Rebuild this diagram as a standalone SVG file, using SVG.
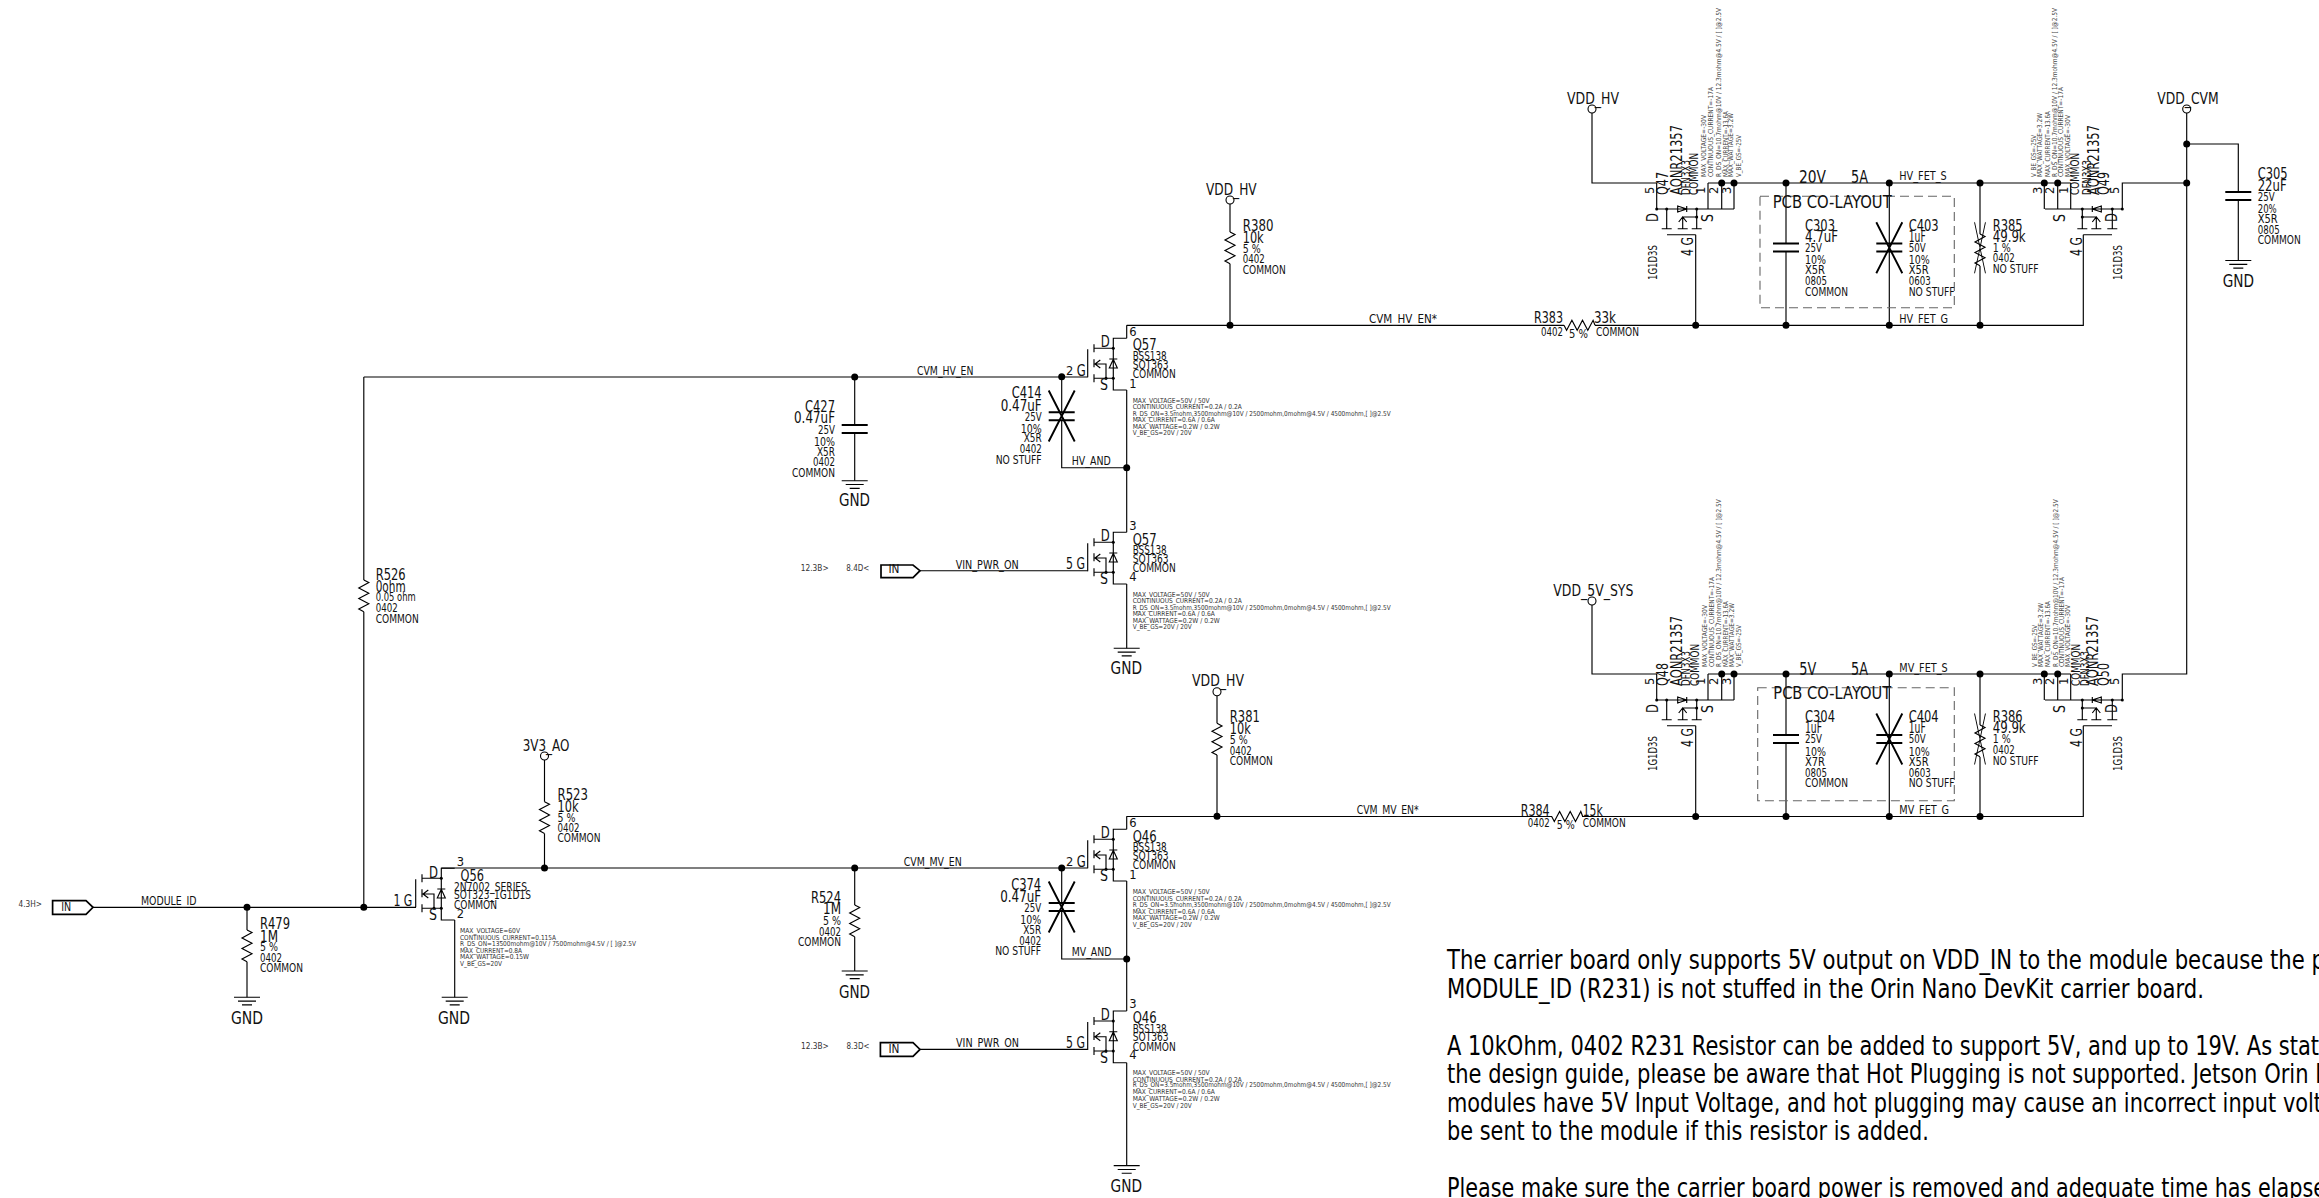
<svg xmlns="http://www.w3.org/2000/svg" xmlns:xlink="http://www.w3.org/1999/xlink" width="2319" height="1198" viewBox="0 0 2319 1198">
<style>
text{font-family:"DejaVu Sans","Liberation Sans",sans-serif;fill:#111}
.b{font-size:15.5px}.m{font-size:13px}.n{font-size:11.5px}.s{font-size:6.8px;fill:#333}.p{font-size:26px;fill:#000}.h{font-size:17px}.c{font-size:17px}.v{font-size:6.8px;fill:#444}.t{font-size:9px;fill:#333}
.w,.sy{fill:none;stroke:#000;stroke-width:1.15}
.hv{fill:none;stroke:#000;stroke-width:1.9}
.tag{fill:#fff;stroke:#000;stroke-width:1.7}
.d{fill:#000}.o{fill:#fff;stroke:#000;stroke-width:1.1}
.dash{fill:none;stroke:#666;stroke-width:1.1;stroke-dasharray:9 5}
</style>
<defs>
<g id="nmos"><path class="sy" d="M13.4,0H0V51.7H13.4M0,10H-19.3M-19.3,6V14M-19.3,21V29M-13,21.7L-18.3,25.7L-13,29.7M-19.3,25.7H-7.3V40M0,40H-19.3M-19.3,36V44M-25.6,11V39M-4,20.7H4M-4,29.7H4L0,21Z"/><circle class="d" cx="0" cy="10" r="1.5"/><circle class="d" cx="0" cy="40" r="1.5"/><circle class="d" cx="-7.3" cy="40" r="1.5"/></g>
<g id="pmos"><path class="sy" d="M0,0H77.3M10,0V19.7M5,19.7H15M26,8V19.7M21,19.7H31M40,0V19.7M35,19.7H45M22,13L26,8L30,13M26,8H40M10.3,25.7H39M21,-3V3L30,0ZM30,-3V3"/><circle class="d" cx="0" cy="0" r="1.5"/><circle class="d" cx="10" cy="0" r="1.5"/><circle class="d" cx="40" cy="0" r="1.5"/><circle class="d" cx="40" cy="8" r="1.5"/></g>
<path id="rz" class="sy" d="M0,0L5,2.6L-5,7.9L5,13.2L-5,18.5L5,23.8L-5,29.1L0,31.7"/>
<path id="rh" class="sy" d="M0,0L2.6,5L7.9,-5L13.2,5L18.5,-5L23.8,5L29.1,-5L31,0"/>
<path id="x" class="hv" d="M-13,-25.5L13,25.5M13,-25.5L-13,25.5"/>
<path id="cap" class="hv" d="M-13,0H13M-13,8H13"/>
<path id="gnd" class="sy" d="M-13,0H13M-9,3.8H9M-5,7.6H5"/>
</defs>
<g id="connectors">
<path class="w" d="M1592,113V183H1656.7V209M1708,183H2070.7M1708,183V209M1721.7,183V209M1734,183V209M2044.3,183V209M2057.7,183V209M2070.7,183V209M2122.3,209V183H2186.7M2186.7,113V674H2122.3V700M2186.7,144H2238.3V192M2238.3,200V260M1786,183V243M1786,252V325.3M1889.3,183V325.3M1980,183V234M1980,266V325.3M1126.7,325.3H1564M1595,325.3H2083.3V234.7M1695.7,234.7V325.3"/>
<path class="w" d="M1592,605V674H1656.7V700M1708,674H2070.7M1708,674V700M1721.7,674V700M1734,674V700M2044.3,674V700M2057.7,674V700M2070.7,674V700M1786,674V735M1786,743.3V816.5M1889.3,674V816.5M1980,674V725M1980,757V816.5M1126.7,816.5H1552M1582,816.5H2083.3V725.7M1695.7,725.7V816.5"/>
<path class="w" d="M1230,204V232M1230,263.7V325.3M1126.7,325.3V338.3M1126.7,390V532.3M1126.7,584V648.3M363.8,377H1087.7M363.8,377V580M363.8,611.7V907.3M93,907.3H416M247,907.3V930M247,961.7V997.3M454.7,920V997.3M441.3,868H1087.7M1126.7,816.3V829.3M1126.7,881V1011M1126.7,1062.7V1165.7M920,570.7H1087.7M920,1049.4H1087.7M854.7,868V905M854.7,936.7V971M1061.7,868V903.3M1061.7,910.7V959H1126.7M1061.7,376.7V412.3M1061.7,420V467.7H1126.7M854.7,377V425M854.7,432.7V480.7M544.5,760V801.7M544.5,833.4V868M1217,696V723.3M1217,755V816.3"/>
<circle class="d" cx="1721.7" cy="183" r="3.5"/><circle class="d" cx="1734" cy="183" r="3.5"/><circle class="d" cx="1786" cy="183" r="3.5"/><circle class="d" cx="1889.3" cy="183" r="3.5"/><circle class="d" cx="1980" cy="183" r="3.5"/><circle class="d" cx="2044.3" cy="183" r="3.5"/><circle class="d" cx="2057.7" cy="183" r="3.5"/><circle class="d" cx="2186.7" cy="144" r="3.5"/><circle class="d" cx="2186.7" cy="183" r="3.5"/><circle class="d" cx="1695.7" cy="325.3" r="3.5"/><circle class="d" cx="1786" cy="325.3" r="3.5"/><circle class="d" cx="1889.3" cy="325.3" r="3.5"/><circle class="d" cx="1980" cy="325.3" r="3.5"/>
<circle class="d" cx="1721.7" cy="674" r="3.5"/><circle class="d" cx="1734" cy="674" r="3.5"/><circle class="d" cx="1786" cy="674" r="3.5"/><circle class="d" cx="1889.3" cy="674" r="3.5"/><circle class="d" cx="1980" cy="674" r="3.5"/><circle class="d" cx="2044.3" cy="674" r="3.5"/><circle class="d" cx="2057.7" cy="674" r="3.5"/><circle class="d" cx="1695.7" cy="816.5" r="3.5"/><circle class="d" cx="1786" cy="816.5" r="3.5"/><circle class="d" cx="1889.3" cy="816.5" r="3.5"/><circle class="d" cx="1980" cy="816.5" r="3.5"/>
<circle class="d" cx="1230" cy="325.3" r="3.5"/><circle class="d" cx="1061.7" cy="376.7" r="3.5"/><circle class="d" cx="854.7" cy="377" r="3.5"/><circle class="d" cx="1126.7" cy="467.7" r="3.5"/><circle class="d" cx="247" cy="907.3" r="3.5"/><circle class="d" cx="363.8" cy="907.3" r="3.5"/><circle class="d" cx="544.5" cy="868" r="3.5"/><circle class="d" cx="854.7" cy="868" r="3.5"/><circle class="d" cx="1061.7" cy="868" r="3.5"/><circle class="d" cx="1217" cy="816.3" r="3.5"/><circle class="d" cx="1126.7" cy="959" r="3.5"/>
<text class="m" x="1369" y="322.7" textLength="68" lengthAdjust="spacingAndGlyphs">CVM_HV_EN*</text>
<text class="m" x="917" y="375" textLength="56.4" lengthAdjust="spacingAndGlyphs">CVM_HV_EN</text>
<text class="m" x="1071.7" y="465" textLength="39" lengthAdjust="spacingAndGlyphs">HV_AND</text>
<text class="m" x="955.7" y="569" textLength="63" lengthAdjust="spacingAndGlyphs">VIN_PWR_ON</text>
<text class="m" x="141" y="905" textLength="55.5" lengthAdjust="spacingAndGlyphs">MODULE_ID</text>
<text class="m" x="903.7" y="866" textLength="58" lengthAdjust="spacingAndGlyphs">CVM_MV_EN</text>
<text class="m" x="1356.7" y="814" textLength="62" lengthAdjust="spacingAndGlyphs">CVM_MV_EN*</text>
<text class="m" x="1071.8" y="956" textLength="39.6" lengthAdjust="spacingAndGlyphs">MV_AND</text>
<text class="m" x="956" y="1046.7" textLength="63" lengthAdjust="spacingAndGlyphs">VIN_PWR_ON</text>
<text class="m" x="1899.3" y="180" textLength="47.4" lengthAdjust="spacingAndGlyphs">HV_FET_S</text>
<text class="m" x="1899.3" y="322.7" textLength="48.7" lengthAdjust="spacingAndGlyphs">HV_FET_G</text>
<text class="m" x="1899.3" y="671.7" textLength="48.4" lengthAdjust="spacingAndGlyphs">MV_FET_S</text>
<text class="m" x="1899.3" y="814" textLength="49.7" lengthAdjust="spacingAndGlyphs">MV_FET_G</text>
<text class="h" x="1799" y="182.7" textLength="27" lengthAdjust="spacingAndGlyphs">20V</text>
<text class="h" x="1851" y="182.7" textLength="17" lengthAdjust="spacingAndGlyphs">5A</text>
<text class="h" x="1799.3" y="675" textLength="17" lengthAdjust="spacingAndGlyphs">5V</text>
<text class="h" x="1851" y="675" textLength="17" lengthAdjust="spacingAndGlyphs">5A</text>
</g>
<g id="VDD_HV_1"><circle class="o" cx="1592" cy="109" r="4"/><text class="b" x="1567" y="104" textLength="52" lengthAdjust="spacingAndGlyphs">VDD_HV</text></g>
<g id="VDD_CVM"><circle class="o" cx="2186.7" cy="109" r="4"/><text class="b" x="2157.3" y="104" textLength="61.4" lengthAdjust="spacingAndGlyphs">VDD_CVM</text></g>
<g id="VDD_5V_SYS"><circle class="o" cx="1592" cy="601" r="4"/><text class="b" x="1553.3" y="596" textLength="80" lengthAdjust="spacingAndGlyphs">VDD_5V_SYS</text></g>
<g id="VDD_HV_2"><circle class="o" cx="1230" cy="200" r="4"/><text class="b" x="1206" y="195" textLength="50.7" lengthAdjust="spacingAndGlyphs">VDD_HV</text></g>
<g id="VDD_HV_3"><circle class="o" cx="1217" cy="691.7" r="4"/><text class="b" x="1192" y="686" textLength="52" lengthAdjust="spacingAndGlyphs">VDD_HV</text></g>
<g id="V3V3_AO"><circle class="o" cx="544.5" cy="756" r="4"/><text class="b" x="522.7" y="750.7" textLength="46.7" lengthAdjust="spacingAndGlyphs">3V3_AO</text></g>
<g id="Q47"><use href="#pmos" x="1656.7" y="209"/>
<text class="n" x="1654" y="194" transform="rotate(-90 1654 194)">5</text><text class="n" x="1705" y="194" transform="rotate(-90 1705 194)">1</text><text class="n" x="1717.7" y="194" transform="rotate(-90 1717.7 194)">2</text><text class="n" x="1730.7" y="194" transform="rotate(-90 1730.7 194)">3</text>
<text class="b" x="1658" y="222" transform="rotate(-90 1658 222)" textLength="9" lengthAdjust="spacingAndGlyphs">D</text><text class="b" x="1713" y="222" transform="rotate(-90 1713 222)" textLength="8" lengthAdjust="spacingAndGlyphs">S</text><text class="b" x="1693" y="256" transform="rotate(-90 1693 256)" textLength="19" lengthAdjust="spacingAndGlyphs">4 G</text><text class="m" x="1656.7" y="280" transform="rotate(-90 1656.7 280)" textLength="35" lengthAdjust="spacingAndGlyphs">1G1D3S</text>
<text class="b" x="1668" y="195" transform="rotate(-90 1668 195)" textLength="23" lengthAdjust="spacingAndGlyphs">Q47</text><text class="b" x="1682" y="195" transform="rotate(-90 1682 195)" textLength="70" lengthAdjust="spacingAndGlyphs">AONR21357</text><text class="m" x="1690" y="195" transform="rotate(-90 1690 195)" textLength="35" lengthAdjust="spacingAndGlyphs">DFN3X3</text><text class="m" x="1698" y="195" transform="rotate(-90 1698 195)" textLength="42" lengthAdjust="spacingAndGlyphs">COMMON</text>
<text class="v" x="1706" y="177" transform="rotate(-90 1706 177)" textLength="62" lengthAdjust="spacingAndGlyphs">MAX_VOLTAGE=-30V</text><text class="v" x="1713" y="177" transform="rotate(-90 1713 177)" textLength="90" lengthAdjust="spacingAndGlyphs">CONTINUOUS_CURRENT=-17A</text><text class="v" x="1721" y="177" transform="rotate(-90 1721 177)" textLength="169" lengthAdjust="spacingAndGlyphs">R_DS_ON=10.7mohm@10V / 12.3mohm@4.5V / [ ]@2.5V</text><text class="v" x="1727.7" y="177" transform="rotate(-90 1727.7 177)" textLength="66" lengthAdjust="spacingAndGlyphs">MAX_CURRENT=-13.6A</text><text class="v" x="1733" y="177" transform="rotate(-90 1733 177)" textLength="64" lengthAdjust="spacingAndGlyphs">MAX_WATTAGE=3.2W</text><text class="v" x="1741" y="177" transform="rotate(-90 1741 177)" textLength="42" lengthAdjust="spacingAndGlyphs">V_BE_GS=-25V</text></g>
<g id="Q49"><use href="#pmos" transform="translate(2122.3 209) scale(-1 1)"/>
<text class="n" x="2041.7" y="194" transform="rotate(-90 2041.7 194)">3</text><text class="n" x="2054" y="194" transform="rotate(-90 2054 194)">2</text><text class="n" x="2067.7" y="194" transform="rotate(-90 2067.7 194)">1</text><text class="n" x="2119" y="194" transform="rotate(-90 2119 194)">5</text>
<text class="b" x="2065" y="222" transform="rotate(-90 2065 222)" textLength="8" lengthAdjust="spacingAndGlyphs">S</text><text class="b" x="2117" y="222" transform="rotate(-90 2117 222)" textLength="9" lengthAdjust="spacingAndGlyphs">D</text><text class="b" x="2082" y="256" transform="rotate(-90 2082 256)" textLength="19" lengthAdjust="spacingAndGlyphs">4 G</text><text class="m" x="2122" y="280" transform="rotate(-90 2122 280)" textLength="35" lengthAdjust="spacingAndGlyphs">1G1D3S</text>
<text class="b" x="2109" y="195" transform="rotate(-90 2109 195)" textLength="23" lengthAdjust="spacingAndGlyphs">Q49</text><text class="b" x="2099" y="195" transform="rotate(-90 2099 195)" textLength="70" lengthAdjust="spacingAndGlyphs">AONR21357</text><text class="m" x="2090.7" y="195" transform="rotate(-90 2090.7 195)" textLength="35" lengthAdjust="spacingAndGlyphs">DFN3X3</text><text class="m" x="2079" y="195" transform="rotate(-90 2079 195)" textLength="42" lengthAdjust="spacingAndGlyphs">COMMON</text>
<text class="v" x="2036" y="177" transform="rotate(-90 2036 177)" textLength="42" lengthAdjust="spacingAndGlyphs">V_BE_GS=-25V</text><text class="v" x="2042" y="177" transform="rotate(-90 2042 177)" textLength="64" lengthAdjust="spacingAndGlyphs">MAX_WATTAGE=3.2W</text><text class="v" x="2050" y="177" transform="rotate(-90 2050 177)" textLength="66" lengthAdjust="spacingAndGlyphs">MAX_CURRENT=-13.6A</text><text class="v" x="2057" y="177" transform="rotate(-90 2057 177)" textLength="169" lengthAdjust="spacingAndGlyphs">R_DS_ON=10.7mohm@10V / 12.3mohm@4.5V / [ ]@2.5V</text><text class="v" x="2063" y="177" transform="rotate(-90 2063 177)" textLength="90" lengthAdjust="spacingAndGlyphs">CONTINUOUS_CURRENT=-17A</text><text class="v" x="2070" y="177" transform="rotate(-90 2070 177)" textLength="62" lengthAdjust="spacingAndGlyphs">MAX_VOLTAGE=-30V</text></g>
<g id="Q48"><use href="#pmos" x="1656.7" y="700"/>
<text class="n" x="1654" y="685" transform="rotate(-90 1654 685)">5</text><text class="n" x="1705" y="685" transform="rotate(-90 1705 685)">1</text><text class="n" x="1717.7" y="685" transform="rotate(-90 1717.7 685)">2</text><text class="n" x="1730.7" y="685" transform="rotate(-90 1730.7 685)">3</text>
<text class="b" x="1658" y="713" transform="rotate(-90 1658 713)" textLength="9" lengthAdjust="spacingAndGlyphs">D</text><text class="b" x="1713" y="713" transform="rotate(-90 1713 713)" textLength="8" lengthAdjust="spacingAndGlyphs">S</text><text class="b" x="1693" y="747" transform="rotate(-90 1693 747)" textLength="19" lengthAdjust="spacingAndGlyphs">4 G</text><text class="m" x="1656.7" y="771" transform="rotate(-90 1656.7 771)" textLength="35" lengthAdjust="spacingAndGlyphs">1G1D3S</text>
<text class="b" x="1668" y="686" transform="rotate(-90 1668 686)" textLength="23" lengthAdjust="spacingAndGlyphs">Q48</text><text class="b" x="1681.7" y="686" transform="rotate(-90 1681.7 686)" textLength="70" lengthAdjust="spacingAndGlyphs">AONR21357</text><text class="m" x="1690" y="686" transform="rotate(-90 1690 686)" textLength="35" lengthAdjust="spacingAndGlyphs">DFN3X3</text><text class="m" x="1699" y="686" transform="rotate(-90 1699 686)" textLength="42" lengthAdjust="spacingAndGlyphs">COMMON</text>
<text class="v" x="1706.7" y="667" transform="rotate(-90 1706.7 667)" textLength="62" lengthAdjust="spacingAndGlyphs">MAX_VOLTAGE=-30V</text><text class="v" x="1713.7" y="667" transform="rotate(-90 1713.7 667)" textLength="90" lengthAdjust="spacingAndGlyphs">CONTINUOUS_CURRENT=-17A</text><text class="v" x="1721" y="667" transform="rotate(-90 1721 667)" textLength="167.7" lengthAdjust="spacingAndGlyphs">R_DS_ON=10.7mohm@10V / 12.3mohm@4.5V / [ ]@2.5V</text><text class="v" x="1727.7" y="667" transform="rotate(-90 1727.7 667)" textLength="66" lengthAdjust="spacingAndGlyphs">MAX_CURRENT=-13.6A</text><text class="v" x="1733.7" y="667" transform="rotate(-90 1733.7 667)" textLength="64" lengthAdjust="spacingAndGlyphs">MAX_WATTAGE=3.2W</text><text class="v" x="1741" y="667" transform="rotate(-90 1741 667)" textLength="42" lengthAdjust="spacingAndGlyphs">V_BE_GS=-25V</text></g>
<g id="Q50"><use href="#pmos" transform="translate(2122.3 700) scale(-1 1)"/>
<text class="n" x="2041.7" y="685" transform="rotate(-90 2041.7 685)">3</text><text class="n" x="2054" y="685" transform="rotate(-90 2054 685)">2</text><text class="n" x="2067.7" y="685" transform="rotate(-90 2067.7 685)">1</text><text class="n" x="2119" y="685" transform="rotate(-90 2119 685)">5</text>
<text class="b" x="2065" y="713" transform="rotate(-90 2065 713)" textLength="8" lengthAdjust="spacingAndGlyphs">S</text><text class="b" x="2117" y="713" transform="rotate(-90 2117 713)" textLength="9" lengthAdjust="spacingAndGlyphs">D</text><text class="b" x="2082" y="747" transform="rotate(-90 2082 747)" textLength="19" lengthAdjust="spacingAndGlyphs">4 G</text><text class="m" x="2122" y="771" transform="rotate(-90 2122 771)" textLength="35" lengthAdjust="spacingAndGlyphs">1G1D3S</text>
<text class="b" x="2109" y="686" transform="rotate(-90 2109 686)" textLength="23" lengthAdjust="spacingAndGlyphs">Q50</text><text class="b" x="2098" y="686" transform="rotate(-90 2098 686)" textLength="70" lengthAdjust="spacingAndGlyphs">AONR21357</text><text class="m" x="2089" y="686" transform="rotate(-90 2089 686)" textLength="35" lengthAdjust="spacingAndGlyphs">DFN3X3</text><text class="m" x="2080" y="686" transform="rotate(-90 2080 686)" textLength="42" lengthAdjust="spacingAndGlyphs">COMMON</text>
<text class="v" x="2036.7" y="667" transform="rotate(-90 2036.7 667)" textLength="42" lengthAdjust="spacingAndGlyphs">V_BE_GS=-25V</text><text class="v" x="2043" y="667" transform="rotate(-90 2043 667)" textLength="64" lengthAdjust="spacingAndGlyphs">MAX_WATTAGE=3.2W</text><text class="v" x="2050" y="667" transform="rotate(-90 2050 667)" textLength="66" lengthAdjust="spacingAndGlyphs">MAX_CURRENT=-13.6A</text><text class="v" x="2057.7" y="667" transform="rotate(-90 2057.7 667)" textLength="167.7" lengthAdjust="spacingAndGlyphs">R_DS_ON=10.7mohm@10V / 12.3mohm@4.5V / [ ]@2.5V</text><text class="v" x="2063.5" y="667" transform="rotate(-90 2063.5 667)" textLength="90" lengthAdjust="spacingAndGlyphs">CONTINUOUS_CURRENT=-17A</text><text class="v" x="2070" y="667" transform="rotate(-90 2070 667)" textLength="62" lengthAdjust="spacingAndGlyphs">MAX_VOLTAGE=-30V</text></g>
<g id="colayout1"><rect class="dash" x="1760" y="196.3" width="194.3" height="111.4"/><text class="c" x="1772.7" y="208.3" textLength="119" lengthAdjust="spacingAndGlyphs">PCB CO-LAYOUT</text></g>
<g id="colayout2"><rect class="dash" x="1757.7" y="687.7" width="196.6" height="113"/><text class="c" x="1773.3" y="699.3" textLength="118" lengthAdjust="spacingAndGlyphs">PCB CO-LAYOUT</text></g>
<g id="C303"><use href="#cap" x="1786" y="243.5"/><text class="b" x="1805" y="231" textLength="30" lengthAdjust="spacingAndGlyphs">C303</text><text class="b" x="1805" y="242.3" textLength="33" lengthAdjust="spacingAndGlyphs">4.7uF</text><text class="m" x="1805" y="252.3" textLength="17" lengthAdjust="spacingAndGlyphs">25V</text><text class="m" x="1805" y="264" textLength="21" lengthAdjust="spacingAndGlyphs">10%</text><text class="m" x="1805" y="274" textLength="20" lengthAdjust="spacingAndGlyphs">X5R</text><text class="m" x="1805" y="285" textLength="22" lengthAdjust="spacingAndGlyphs">0805</text><text class="m" x="1805" y="295.7" textLength="43" lengthAdjust="spacingAndGlyphs">COMMON</text></g>
<g id="C403"><use href="#cap" x="1889.3" y="243.5"/><use href="#x" x="1889.3" y="247.8"/><text class="b" x="1908.7" y="231" textLength="30" lengthAdjust="spacingAndGlyphs">C403</text><text class="b" x="1908.7" y="242.3" textLength="17" lengthAdjust="spacingAndGlyphs">1uF</text><text class="m" x="1908.7" y="252.3" textLength="17" lengthAdjust="spacingAndGlyphs">50V</text><text class="m" x="1908.7" y="264" textLength="21" lengthAdjust="spacingAndGlyphs">10%</text><text class="m" x="1908.7" y="274" textLength="20" lengthAdjust="spacingAndGlyphs">X5R</text><text class="m" x="1908.7" y="285" textLength="22" lengthAdjust="spacingAndGlyphs">0603</text><text class="m" x="1908.7" y="295.7" textLength="46" lengthAdjust="spacingAndGlyphs">NO STUFF</text></g>
<g id="R385"><use href="#rz" x="1980" y="234"/><use href="#x" transform="translate(1980 247.8) scale(.42 1)"/><text class="b" x="1992.7" y="231" textLength="30" lengthAdjust="spacingAndGlyphs">R385</text><text class="b" x="1992.7" y="242.3" textLength="33" lengthAdjust="spacingAndGlyphs">49.9k</text><text class="m" x="1992.7" y="252.3" textLength="18" lengthAdjust="spacingAndGlyphs">1 %</text><text class="m" x="1992.7" y="262" textLength="22" lengthAdjust="spacingAndGlyphs">0402</text><text class="m" x="1992.7" y="273.3" textLength="46" lengthAdjust="spacingAndGlyphs">NO STUFF</text></g>
<g id="C305"><use href="#cap" x="2238.3" y="192"/><use href="#gnd" x="2238.3" y="260.5"/><text class="h" x="2222.7" y="286.7" textLength="31.3" lengthAdjust="spacingAndGlyphs">GND</text><text class="b" x="2257.7" y="179" textLength="30" lengthAdjust="spacingAndGlyphs">C305</text><text class="b" x="2257.7" y="191" textLength="29" lengthAdjust="spacingAndGlyphs">22uF</text><text class="m" x="2257.7" y="201" textLength="17" lengthAdjust="spacingAndGlyphs">25V</text><text class="m" x="2257.7" y="213" textLength="19" lengthAdjust="spacingAndGlyphs">20%</text><text class="m" x="2257.7" y="222.7" textLength="20" lengthAdjust="spacingAndGlyphs">X5R</text><text class="m" x="2257.7" y="234" textLength="22" lengthAdjust="spacingAndGlyphs">0805</text><text class="m" x="2257.7" y="244" textLength="43" lengthAdjust="spacingAndGlyphs">COMMON</text></g>
<g id="R383"><use href="#rh" x="1564" y="325.3"/><text class="b" x="1534" y="323.3" textLength="29" lengthAdjust="spacingAndGlyphs">R383</text><text class="b" x="1594" y="323" textLength="22" lengthAdjust="spacingAndGlyphs">33k</text><text class="m" x="1541" y="336" textLength="22" lengthAdjust="spacingAndGlyphs">0402</text><text class="m" x="1569" y="338" textLength="19" lengthAdjust="spacingAndGlyphs">5 %</text><text class="m" x="1596" y="336" textLength="43" lengthAdjust="spacingAndGlyphs">COMMON</text></g>
<g id="C304"><use href="#cap" x="1786" y="735"/><text class="b" x="1805" y="721.7" textLength="30" lengthAdjust="spacingAndGlyphs">C304</text><text class="b" x="1805" y="733.3" textLength="17" lengthAdjust="spacingAndGlyphs">1uF</text><text class="m" x="1805" y="743.3" textLength="17" lengthAdjust="spacingAndGlyphs">25V</text><text class="m" x="1805" y="756" textLength="21" lengthAdjust="spacingAndGlyphs">10%</text><text class="m" x="1805" y="765.7" textLength="20" lengthAdjust="spacingAndGlyphs">X7R</text><text class="m" x="1805" y="776.7" textLength="22" lengthAdjust="spacingAndGlyphs">0805</text><text class="m" x="1805" y="786.7" textLength="43" lengthAdjust="spacingAndGlyphs">COMMON</text></g>
<g id="C404"><use href="#cap" x="1889.3" y="735"/><use href="#x" x="1889.3" y="739"/><text class="b" x="1908.7" y="721.7" textLength="30" lengthAdjust="spacingAndGlyphs">C404</text><text class="b" x="1908.7" y="733.3" textLength="17" lengthAdjust="spacingAndGlyphs">1uF</text><text class="m" x="1908.7" y="743.3" textLength="17" lengthAdjust="spacingAndGlyphs">50V</text><text class="m" x="1908.7" y="756" textLength="21" lengthAdjust="spacingAndGlyphs">10%</text><text class="m" x="1908.7" y="765.7" textLength="20" lengthAdjust="spacingAndGlyphs">X5R</text><text class="m" x="1908.7" y="776.7" textLength="22" lengthAdjust="spacingAndGlyphs">0603</text><text class="m" x="1908.7" y="786.7" textLength="46" lengthAdjust="spacingAndGlyphs">NO STUFF</text></g>
<g id="R386"><use href="#rz" x="1980" y="725"/><use href="#x" transform="translate(1980 739) scale(.42 1)"/><text class="b" x="1992.7" y="721.7" textLength="30" lengthAdjust="spacingAndGlyphs">R386</text><text class="b" x="1992.7" y="733" textLength="33" lengthAdjust="spacingAndGlyphs">49.9k</text><text class="m" x="1992.7" y="743.3" textLength="18" lengthAdjust="spacingAndGlyphs">1 %</text><text class="m" x="1992.7" y="754.3" textLength="22" lengthAdjust="spacingAndGlyphs">0402</text><text class="m" x="1992.7" y="765" textLength="46" lengthAdjust="spacingAndGlyphs">NO STUFF</text></g>
<g id="R384"><use href="#rh" x="1551.7" y="816.5"/><text class="b" x="1520.7" y="815.5" textLength="29" lengthAdjust="spacingAndGlyphs">R384</text><text class="b" x="1582.7" y="815.5" textLength="20" lengthAdjust="spacingAndGlyphs">15k</text><text class="m" x="1527.7" y="826.7" textLength="22" lengthAdjust="spacingAndGlyphs">0402</text><text class="m" x="1556.7" y="829" textLength="18" lengthAdjust="spacingAndGlyphs">5 %</text><text class="m" x="1582.7" y="826.7" textLength="43" lengthAdjust="spacingAndGlyphs">COMMON</text></g>
<g id="Q57A"><use href="#nmos" x="1113.3" y="338.3"/><text class="n" x="1066" y="375">2</text><text class="b" x="1076.7" y="376" textLength="9" lengthAdjust="spacingAndGlyphs">G</text><text class="b" x="1100.7" y="347" textLength="9" lengthAdjust="spacingAndGlyphs">D</text><text class="b" x="1100" y="390" textLength="8" lengthAdjust="spacingAndGlyphs">S</text><text class="n" x="1129.3" y="336">6</text><text class="n" x="1129.3" y="388.3">1</text>
<text class="b" x="1132.7" y="350" textLength="24" lengthAdjust="spacingAndGlyphs">Q57</text><text class="m" x="1132.7" y="360" textLength="34" lengthAdjust="spacingAndGlyphs">BSS138</text><text class="m" x="1132.7" y="369" textLength="36" lengthAdjust="spacingAndGlyphs">SOT363</text><text class="m" x="1132.7" y="378.3" textLength="43" lengthAdjust="spacingAndGlyphs">COMMON</text>
<text class="s" x="1132.7" y="403.3" textLength="77" lengthAdjust="spacingAndGlyphs">MAX_VOLTAGE=50V / 50V</text><text class="s" x="1132.7" y="409.3" textLength="109" lengthAdjust="spacingAndGlyphs">CONTINUOUS_CURRENT=0.2A / 0.2A</text><text class="s" x="1132.7" y="416" textLength="258" lengthAdjust="spacingAndGlyphs">R_DS_ON=3.5mohm,3500mohm@10V / 2500mohm,0mohm@4.5V / 4500mohm,[ ]@2.5V</text><text class="s" x="1132.7" y="422.3" textLength="82" lengthAdjust="spacingAndGlyphs">MAX_CURRENT=0.6A / 0.6A</text><text class="s" x="1132.7" y="429" textLength="87" lengthAdjust="spacingAndGlyphs">MAX_WATTAGE=0.2W / 0.2W</text><text class="s" x="1132.7" y="435" textLength="59" lengthAdjust="spacingAndGlyphs">V_BE_GS=20V / 20V</text></g>
<g id="Q57B"><use href="#nmos" x="1113.3" y="532.3"/><text class="b" x="1066" y="569.3" textLength="19" lengthAdjust="spacingAndGlyphs">5 G</text><text class="b" x="1100.7" y="540.7" textLength="9" lengthAdjust="spacingAndGlyphs">D</text><text class="b" x="1100" y="584" textLength="8" lengthAdjust="spacingAndGlyphs">S</text><text class="n" x="1129.3" y="530">3</text><text class="n" x="1129.3" y="580.7">4</text>
<text class="b" x="1132.7" y="545" textLength="24" lengthAdjust="spacingAndGlyphs">Q57</text><text class="m" x="1132.7" y="554.3" textLength="34" lengthAdjust="spacingAndGlyphs">BSS138</text><text class="m" x="1132.7" y="563.3" textLength="36" lengthAdjust="spacingAndGlyphs">SOT363</text><text class="m" x="1132.7" y="572.3" textLength="43" lengthAdjust="spacingAndGlyphs">COMMON</text>
<text class="s" x="1132.7" y="596.7" textLength="77" lengthAdjust="spacingAndGlyphs">MAX_VOLTAGE=50V / 50V</text><text class="s" x="1132.7" y="602.7" textLength="109" lengthAdjust="spacingAndGlyphs">CONTINUOUS_CURRENT=0.2A / 0.2A</text><text class="s" x="1132.7" y="610" textLength="258" lengthAdjust="spacingAndGlyphs">R_DS_ON=3.5mohm,3500mohm@10V / 2500mohm,0mohm@4.5V / 4500mohm,[ ]@2.5V</text><text class="s" x="1132.7" y="615.7" textLength="82" lengthAdjust="spacingAndGlyphs">MAX_CURRENT=0.6A / 0.6A</text><text class="s" x="1132.7" y="622.7" textLength="87" lengthAdjust="spacingAndGlyphs">MAX_WATTAGE=0.2W / 0.2W</text><text class="s" x="1132.7" y="628.7" textLength="59" lengthAdjust="spacingAndGlyphs">V_BE_GS=20V / 20V</text>
<use href="#gnd" x="1126.7" y="648.3"/><text class="h" x="1110.6" y="674" textLength="31.4" lengthAdjust="spacingAndGlyphs">GND</text></g>
<g id="R380"><use href="#rz" x="1230" y="232"/><text class="b" x="1242.7" y="230.7" textLength="30.7" lengthAdjust="spacingAndGlyphs">R380</text><text class="b" x="1242.7" y="242.7" textLength="21" lengthAdjust="spacingAndGlyphs">10k</text><text class="m" x="1242.7" y="252.7" textLength="18" lengthAdjust="spacingAndGlyphs">5 %</text><text class="m" x="1242.7" y="263.3" textLength="22" lengthAdjust="spacingAndGlyphs">0402</text><text class="m" x="1242.7" y="274" textLength="43" lengthAdjust="spacingAndGlyphs">COMMON</text></g>
<g id="C414"><use href="#cap" x="1061.7" y="412.3"/><use href="#x" x="1061.7" y="416"/><text class="b" x="1011.7" y="397.7" textLength="30" lengthAdjust="spacingAndGlyphs">C414</text><text class="b" x="1000.7" y="410.7" textLength="41" lengthAdjust="spacingAndGlyphs">0.47uF</text><text class="m" x="1024.7" y="420.7" textLength="17" lengthAdjust="spacingAndGlyphs">25V</text><text class="m" x="1020.7" y="433.3" textLength="21" lengthAdjust="spacingAndGlyphs">10%</text><text class="m" x="1023.7" y="442.3" textLength="18" lengthAdjust="spacingAndGlyphs">X5R</text><text class="m" x="1019.7" y="453.3" textLength="22" lengthAdjust="spacingAndGlyphs">0402</text><text class="m" x="995.7" y="464" textLength="46" lengthAdjust="spacingAndGlyphs">NO STUFF</text></g>
<g id="C427"><use href="#cap" x="854.7" y="425"/><use href="#gnd" x="854.7" y="480.7"/><text class="h" x="839" y="505.7" textLength="31" lengthAdjust="spacingAndGlyphs">GND</text><text class="b" x="805" y="411.7" textLength="30" lengthAdjust="spacingAndGlyphs">C427</text><text class="b" x="794" y="423.3" textLength="41" lengthAdjust="spacingAndGlyphs">0.47uF</text><text class="m" x="818" y="434" textLength="17" lengthAdjust="spacingAndGlyphs">25V</text><text class="m" x="814" y="446" textLength="21" lengthAdjust="spacingAndGlyphs">10%</text><text class="m" x="817" y="456" textLength="18" lengthAdjust="spacingAndGlyphs">X5R</text><text class="m" x="813" y="466" textLength="22" lengthAdjust="spacingAndGlyphs">0402</text><text class="m" x="792" y="476.7" textLength="43" lengthAdjust="spacingAndGlyphs">COMMON</text></g>
<g id="R526"><use href="#rz" x="363.8" y="580"/><text class="b" x="375.7" y="579.5" textLength="30" lengthAdjust="spacingAndGlyphs">R526</text><text class="b" x="375.7" y="591.5" textLength="30" lengthAdjust="spacingAndGlyphs">0ohm</text><text class="m" x="375.7" y="601" textLength="40" lengthAdjust="spacingAndGlyphs">0.05 ohm</text><text class="m" x="375.7" y="612" textLength="22" lengthAdjust="spacingAndGlyphs">0402</text><text class="m" x="375.7" y="622.5" textLength="43" lengthAdjust="spacingAndGlyphs">COMMON</text></g>
<g id="IN1"><path class="tag" d="M881,565H913L920,570.7L913,577.7H881Z"/><text class="m" x="888.4" y="573.3" textLength="11" lengthAdjust="spacingAndGlyphs">IN</text><text class="t" x="800.8" y="570.7" textLength="27.8" lengthAdjust="spacingAndGlyphs">12.3B&gt;</text><text class="t" x="846.3" y="570.7" textLength="23" lengthAdjust="spacingAndGlyphs">8.4D&lt;</text></g>
<g id="IN2"><path class="tag" d="M880.4,1042.7H913L920,1049.4L913,1056.3H880.4Z"/><text class="m" x="888.4" y="1052.7" textLength="11" lengthAdjust="spacingAndGlyphs">IN</text><text class="t" x="801" y="1049" textLength="27.8" lengthAdjust="spacingAndGlyphs">12.3B&gt;</text><text class="t" x="846.5" y="1049" textLength="23" lengthAdjust="spacingAndGlyphs">8.3D&lt;</text></g>
<g id="IN3"><path class="tag" d="M52.6,900.7H86L93,907.3L86,914.3H52.6Z"/><text class="m" x="61.3" y="911" textLength="10" lengthAdjust="spacingAndGlyphs">IN</text><text class="t" x="18.6" y="906.7" textLength="23.4" lengthAdjust="spacingAndGlyphs">4.3H&gt;</text></g>
<g id="R479"><use href="#rz" x="247" y="930"/><use href="#gnd" x="247" y="997.3"/><text class="h" x="231" y="1024" textLength="32" lengthAdjust="spacingAndGlyphs">GND</text><text class="b" x="260" y="929" textLength="30" lengthAdjust="spacingAndGlyphs">R479</text><text class="b" x="260" y="941.7" textLength="18" lengthAdjust="spacingAndGlyphs">1M</text><text class="m" x="260" y="951" textLength="18" lengthAdjust="spacingAndGlyphs">5 %</text><text class="m" x="260" y="962.3" textLength="22" lengthAdjust="spacingAndGlyphs">0402</text><text class="m" x="260" y="972.3" textLength="43" lengthAdjust="spacingAndGlyphs">COMMON</text></g>
<g id="Q56"><use href="#nmos" x="441.3" y="868.3"/><use href="#gnd" x="454.7" y="997.3"/><text class="h" x="438" y="1024" textLength="32" lengthAdjust="spacingAndGlyphs">GND</text><text class="b" x="393.4" y="905.7" textLength="19" lengthAdjust="spacingAndGlyphs">1 G</text><text class="b" x="429" y="878.3" textLength="9" lengthAdjust="spacingAndGlyphs">D</text><text class="b" x="429" y="920" textLength="8" lengthAdjust="spacingAndGlyphs">S</text><text class="n" x="456.7" y="865.7">3</text><text class="n" x="456.7" y="918.3">2</text>
<text class="b" x="460.6" y="880.7" textLength="23.4" lengthAdjust="spacingAndGlyphs">Q56</text><text class="m" x="454" y="890.7" textLength="73" lengthAdjust="spacingAndGlyphs">2N7002_SERIES</text><text class="m" x="454" y="899.3" textLength="77" lengthAdjust="spacingAndGlyphs">SOT323_1G1D1S</text><text class="m" x="454" y="909" textLength="43" lengthAdjust="spacingAndGlyphs">COMMON</text>
<text class="s" x="460" y="932.7" textLength="60" lengthAdjust="spacingAndGlyphs">MAX_VOLTAGE=60V</text><text class="s" x="460" y="940" textLength="96" lengthAdjust="spacingAndGlyphs">CONTINUOUS_CURRENT=0.115A</text><text class="s" x="460" y="946" textLength="176" lengthAdjust="spacingAndGlyphs">R_DS_ON=13500mohm@10V / 7500mohm@4.5V / [ ]@2.5V</text><text class="s" x="460" y="952.7" textLength="62" lengthAdjust="spacingAndGlyphs">MAX_CURRENT=0.8A</text><text class="s" x="460" y="958.7" textLength="69" lengthAdjust="spacingAndGlyphs">MAX_WATTAGE=0.15W</text><text class="s" x="460" y="966" textLength="42" lengthAdjust="spacingAndGlyphs">V_BE_GS=20V</text></g>
<g id="R523"><use href="#rz" x="544.5" y="801.7"/><text class="b" x="557.5" y="800" textLength="30.5" lengthAdjust="spacingAndGlyphs">R523</text><text class="b" x="557.5" y="811.7" textLength="21" lengthAdjust="spacingAndGlyphs">10k</text><text class="m" x="557.5" y="821.7" textLength="18" lengthAdjust="spacingAndGlyphs">5 %</text><text class="m" x="557.5" y="831.7" textLength="22" lengthAdjust="spacingAndGlyphs">0402</text><text class="m" x="557.5" y="842.3" textLength="43" lengthAdjust="spacingAndGlyphs">COMMON</text></g>
<g id="R524"><use href="#rz" x="854.7" y="905"/><use href="#gnd" x="854.7" y="971"/><text class="h" x="839" y="997.7" textLength="31" lengthAdjust="spacingAndGlyphs">GND</text><text class="b" x="811" y="902.7" textLength="30" lengthAdjust="spacingAndGlyphs">R524</text><text class="b" x="823" y="914.3" textLength="18" lengthAdjust="spacingAndGlyphs">1M</text><text class="m" x="823" y="925" textLength="18" lengthAdjust="spacingAndGlyphs">5 %</text><text class="m" x="819" y="936" textLength="22" lengthAdjust="spacingAndGlyphs">0402</text><text class="m" x="798" y="946" textLength="43" lengthAdjust="spacingAndGlyphs">COMMON</text></g>
<g id="C374"><use href="#cap" x="1061.7" y="903"/><use href="#x" x="1061.7" y="907"/><text class="b" x="1011.2" y="890" textLength="30" lengthAdjust="spacingAndGlyphs">C374</text><text class="b" x="1000.2" y="901.7" textLength="41" lengthAdjust="spacingAndGlyphs">0.47uF</text><text class="m" x="1024.2" y="912.3" textLength="17" lengthAdjust="spacingAndGlyphs">25V</text><text class="m" x="1020.2" y="924" textLength="21" lengthAdjust="spacingAndGlyphs">10%</text><text class="m" x="1023.2" y="934" textLength="18" lengthAdjust="spacingAndGlyphs">X5R</text><text class="m" x="1019.2" y="945" textLength="22" lengthAdjust="spacingAndGlyphs">0402</text><text class="m" x="995.2" y="955" textLength="46" lengthAdjust="spacingAndGlyphs">NO STUFF</text></g>
<g id="R381"><use href="#rz" x="1217" y="723.3"/><text class="b" x="1229.8" y="721.7" textLength="30" lengthAdjust="spacingAndGlyphs">R381</text><text class="b" x="1229.8" y="734" textLength="21" lengthAdjust="spacingAndGlyphs">10k</text><text class="m" x="1229.8" y="744" textLength="18" lengthAdjust="spacingAndGlyphs">5 %</text><text class="m" x="1229.8" y="755" textLength="22" lengthAdjust="spacingAndGlyphs">0402</text><text class="m" x="1229.8" y="765" textLength="43" lengthAdjust="spacingAndGlyphs">COMMON</text></g>
<g id="Q46A"><use href="#nmos" x="1113.3" y="829.3"/><text class="n" x="1066" y="866">2</text><text class="b" x="1076.7" y="867" textLength="9" lengthAdjust="spacingAndGlyphs">G</text><text class="b" x="1100.7" y="838" textLength="9" lengthAdjust="spacingAndGlyphs">D</text><text class="b" x="1100" y="881" textLength="8" lengthAdjust="spacingAndGlyphs">S</text><text class="n" x="1129.3" y="827">6</text><text class="n" x="1129.3" y="879.3">1</text>
<text class="b" x="1132.7" y="841.7" textLength="24" lengthAdjust="spacingAndGlyphs">Q46</text><text class="m" x="1132.7" y="851" textLength="34" lengthAdjust="spacingAndGlyphs">BSS138</text><text class="m" x="1132.7" y="860" textLength="36" lengthAdjust="spacingAndGlyphs">SOT363</text><text class="m" x="1132.7" y="869.3" textLength="43" lengthAdjust="spacingAndGlyphs">COMMON</text>
<text class="s" x="1132.7" y="894" textLength="77" lengthAdjust="spacingAndGlyphs">MAX_VOLTAGE=50V / 50V</text><text class="s" x="1132.7" y="901" textLength="109" lengthAdjust="spacingAndGlyphs">CONTINUOUS_CURRENT=0.2A / 0.2A</text><text class="s" x="1132.7" y="906.7" textLength="258" lengthAdjust="spacingAndGlyphs">R_DS_ON=3.5mohm,3500mohm@10V / 2500mohm,0mohm@4.5V / 4500mohm,[ ]@2.5V</text><text class="s" x="1132.7" y="914" textLength="82" lengthAdjust="spacingAndGlyphs">MAX_CURRENT=0.6A / 0.6A</text><text class="s" x="1132.7" y="920" textLength="87" lengthAdjust="spacingAndGlyphs">MAX_WATTAGE=0.2W / 0.2W</text><text class="s" x="1132.7" y="926.7" textLength="59" lengthAdjust="spacingAndGlyphs">V_BE_GS=20V / 20V</text></g>
<g id="Q46B"><use href="#nmos" x="1113.3" y="1011"/><text class="b" x="1066" y="1047.7" textLength="19" lengthAdjust="spacingAndGlyphs">5 G</text><text class="b" x="1100.7" y="1019.5" textLength="9" lengthAdjust="spacingAndGlyphs">D</text><text class="b" x="1100" y="1062.7" textLength="8" lengthAdjust="spacingAndGlyphs">S</text><text class="n" x="1129.3" y="1007.7">3</text><text class="n" x="1129.3" y="1059.3">4</text>
<text class="b" x="1132.7" y="1023.3" textLength="24" lengthAdjust="spacingAndGlyphs">Q46</text><text class="m" x="1132.7" y="1032.7" textLength="34" lengthAdjust="spacingAndGlyphs">BSS138</text><text class="m" x="1132.7" y="1041" textLength="36" lengthAdjust="spacingAndGlyphs">SOT363</text><text class="m" x="1132.7" y="1050.7" textLength="43" lengthAdjust="spacingAndGlyphs">COMMON</text>
<text class="s" x="1132.7" y="1075" textLength="77" lengthAdjust="spacingAndGlyphs">MAX_VOLTAGE=50V / 50V</text><text class="s" x="1132.7" y="1081.7" textLength="109" lengthAdjust="spacingAndGlyphs">CONTINUOUS_CURRENT=0.2A / 0.2A</text><text class="s" x="1132.7" y="1087.3" textLength="258" lengthAdjust="spacingAndGlyphs">R_DS_ON=3.5mohm,3500mohm@10V / 2500mohm,0mohm@4.5V / 4500mohm,[ ]@2.5V</text><text class="s" x="1132.7" y="1094.3" textLength="82" lengthAdjust="spacingAndGlyphs">MAX_CURRENT=0.6A / 0.6A</text><text class="s" x="1132.7" y="1100.7" textLength="87" lengthAdjust="spacingAndGlyphs">MAX_WATTAGE=0.2W / 0.2W</text><text class="s" x="1132.7" y="1107.7" textLength="59" lengthAdjust="spacingAndGlyphs">V_BE_GS=20V / 20V</text>
<use href="#gnd" x="1126.7" y="1165.7"/><text class="h" x="1110.6" y="1191.7" textLength="31.4" lengthAdjust="spacingAndGlyphs">GND</text></g>
<g id="note">
<text class="p" x="1447" y="969.3" textLength="878" lengthAdjust="spacingAndGlyphs">The carrier board only supports 5V output on VDD_IN to the module because the p</text>
<text class="p" x="1447" y="997.7" textLength="757" lengthAdjust="spacingAndGlyphs">MODULE_ID (R231) is not stuffed in the Orin Nano DevKit carrier board.</text>
<text class="p" x="1447" y="1055" textLength="872" lengthAdjust="spacingAndGlyphs">A 10kOhm, 0402 R231 Resistor can be added to support 5V, and up to 19V. As stat</text>
<text class="p" x="1447" y="1083.3" textLength="884" lengthAdjust="spacingAndGlyphs">the design guide, please be aware that Hot Plugging is not supported. Jetson Orin N</text>
<text class="p" x="1447" y="1111.7" textLength="875" lengthAdjust="spacingAndGlyphs">modules have 5V Input Voltage, and hot plugging may cause an incorrect input volt</text>
<text class="p" x="1447" y="1140" textLength="482" lengthAdjust="spacingAndGlyphs">be sent to the module if this resistor is added.</text>
<text class="p" x="1447" y="1196.7" textLength="879" lengthAdjust="spacingAndGlyphs">Please make sure the carrier board power is removed and adequate time has elapse</text>
</g>
</svg>
